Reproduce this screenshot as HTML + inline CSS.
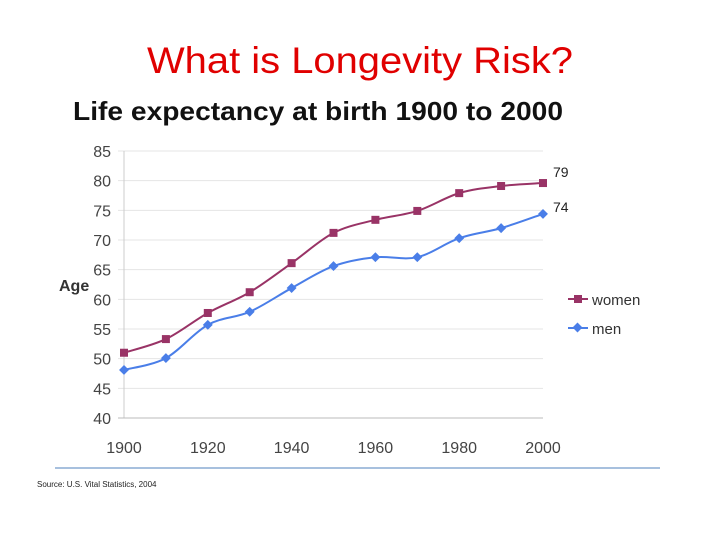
<!DOCTYPE html>
<html><head><meta charset="utf-8"><style>
body{margin:0;background:#fff;}
svg{display:block;font-family:"Liberation Sans",sans-serif;}
</style></head><body>
<svg width="720" height="540">
<text x="147" y="73" textLength="426" lengthAdjust="spacingAndGlyphs" font-size="37" fill="#e00000">What is Longevity Risk?</text>
<text x="73" y="120" textLength="490" lengthAdjust="spacingAndGlyphs" font-size="26" font-weight="bold" fill="#111">Life expectancy at birth 1900 to 2000</text>
<g id="grid"></g>
<g id="yt"></g>
<g id="xt"></g>
<text x="59" y="291" font-size="16" font-weight="bold" fill="#333">Age</text>
<g id="series"></g>
<text x="553" y="177" font-size="14" fill="#222">79</text>
<text x="553" y="212" font-size="14" fill="#222">74</text>
<g>
<line x1="568" y1="299" x2="588" y2="299" stroke="#993366" stroke-width="2"/>
<rect x="574" y="295" width="8" height="8" fill="#993366"/>
<text x="592" y="305" font-size="15" fill="#333">women</text></g>
<g>
<line x1="568" y1="328" x2="588" y2="328" stroke="#4a7ee8" stroke-width="2"/>
<rect x="574" y="324" width="7" height="7" fill="#4a7ee8" transform="rotate(45 577.5 327.5)"/>
<text x="592" y="334" font-size="15" fill="#333">men</text></g>
<line x1="55" y1="468" x2="660" y2="468" stroke="#4f81bd" stroke-width="1"/>
<text x="37" y="487" font-size="8" fill="#222">Source: U.S. Vital Statistics, 2004</text>
</svg>
<script>
const years=[1900,1910,1920,1930,1940,1950,1960,1970,1980,1990,2000];
const women=[51,53.3,57.7,61.2,66.1,71.2,73.4,74.9,77.9,79.1,79.6];
const men=[48.1,50.1,55.7,57.9,61.9,65.6,67.1,67.1,70.3,72.0,74.4];
const yTicks=[40,45,50,55,60,65,70,75,80,85];
const xTicks=[1900,1920,1940,1960,1980,2000];
const NS="http://www.w3.org/2000/svg";
const X=v=>124+(v-1900)*(543-124)/100;
const Y=v=>418-(v-40)*(418-151)/45;
function mk(t,a,p){const e=document.createElementNS(NS,t);for(const k in a)e.setAttribute(k,a[k]);p.appendChild(e);return e;}
const grid=document.getElementById('grid'),yt=document.getElementById('yt'),xt=document.getElementById('xt'),ser=document.getElementById('series');
yTicks.forEach(v=>{
 const l=mk('line',{x1:118,x2:543,y1:Y(v),y2:Y(v),stroke:'#e4e4e4','stroke-width':1},grid);
 
 
 const t=mk('text',{x:111,y:Y(v)+6,'text-anchor':'end','font-size':16,fill:'#444'},yt);t.textContent=v;
 
 
});
mk('line',{x1:124,x2:124,y1:151,y2:418,stroke:'#ccc'},grid);
mk('line',{x1:118,x2:543,y1:418,y2:418,stroke:'#bbb'},grid);
xTicks.forEach(v=>{
 const t=mk('text',{x:X(v),y:453,'text-anchor':'middle','font-size':16,fill:'#444'},xt);t.textContent=v;
 
 
});
function path(vals){
 const p=years.map((y,i)=>[X(y),Y(vals[i])]);
 let d='M'+p[0][0]+','+p[0][1];
 for(let i=0;i<p.length-1;i++){
  const p0=p[i-1]||p[i],p1=p[i],p2=p[i+1],p3=p[i+2]||p2;
  const c1=[p1[0]+(p2[0]-p0[0])/6,p1[1]+(p2[1]-p0[1])/6],c2=[p2[0]-(p3[0]-p1[0])/6,p2[1]-(p3[1]-p1[1])/6];
  d+=' C'+c1+' '+c2+' '+p2;
 }
 return d;
}
const wl=mk('path',{d:path(women),fill:'none',stroke:'#993366','stroke-width':2},ser);


const ml=mk('path',{d:path(men),fill:'none',stroke:'#4a7ee8','stroke-width':2},ser);


years.forEach((y,i)=>{
 const r=mk('rect',{x:X(y)-4,y:Y(women[i])-4,width:8,height:8,fill:'#993366'},ser);
 
 
 const cx=X(y),cy=Y(men[i]);
 const d=mk('rect',{x:cx-3.5,y:cy-3.5,width:7,height:7,fill:'#4a7ee8',transform:`rotate(45 ${cx} ${cy})`},ser);
 
 
});
</script>
</body></html>
